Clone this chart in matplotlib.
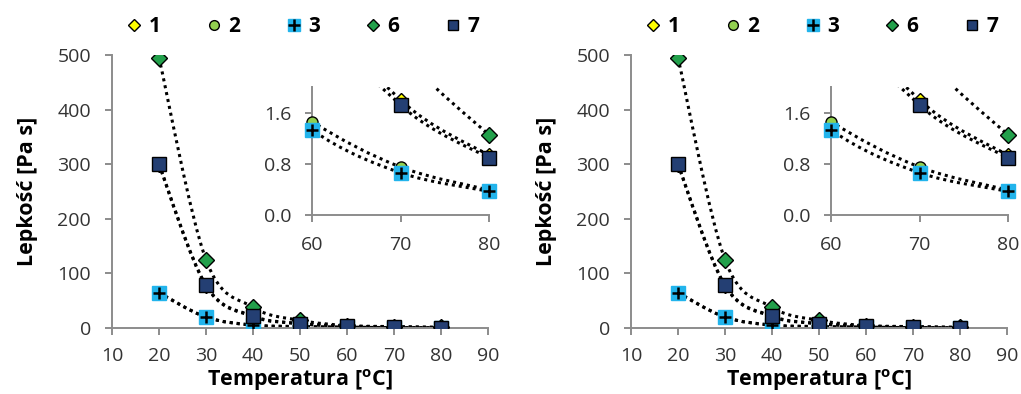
import matplotlib
matplotlib.use('Agg')
import matplotlib.pyplot as plt
from matplotlib.lines import Line2D
from matplotlib.legend_handler import HandlerTuple
from matplotlib.path import Path
from matplotlib.patches import PathPatch
import numpy as np

plt.rcParams['font.family'] = ['Open Sans', 'DejaVu Sans']

temps = [20, 30, 40, 50, 60, 70, 80]
labels = ['1', '2', '3', '6', '7']
visc_1 = [299, 77, 21, 8.0, 3.6, 1.80, 0.93]
visc_2 = [64, 20, 5.0, 2.5, 1.46, 0.75, 0.39]
visc_3 = [65, 20, 5.5, 2.6, 1.33, 0.66, 0.37]
visc_6 = [495, 125, 38, 14, 4.5, 2.55, 1.25]
visc_7 = [300, 78, 22, 8.0, 3.5, 1.72, 0.89]
series = [visc_1, visc_2, visc_3, visc_6, visc_7]

colors = ['#FFFF00', '#92D050', '#22B4EC', '#22A04B', '#243F73']
markers = ['D', 'o', 's', 'D', 's']
sizes = [7, 8, 10, 8, 9.5]
leg_sizes = [6, 7, 8.5, 6.5, 6.5]
spine_col = '#8C8C8C'
tick_col = '#333333'
dots = (0, (1, 1.3))


def smooth_line(ax, x, y):
    # Excel-style smoothed line: cubic Bezier through the points
    p = np.column_stack([x, y]).astype(float)
    n = len(p)
    verts = [p[0]]
    codes = [Path.MOVETO]
    for k in range(n - 1):
        prev = p[k - 1] if k > 0 else p[k]
        nxt = p[k + 2] if k + 2 < n else p[k + 1]
        c1 = p[k] + (p[k + 1] - prev) / 6
        c2 = p[k + 1] - (nxt - p[k]) / 6
        verts += [c1, c2, p[k + 1]]
        codes += [Path.CURVE4] * 3
    patch = PathPatch(Path(verts, codes), fill=False, edgecolor='black', lw=2.2,
                      linestyle=dots, zorder=2)
    ax.add_patch(patch)


def draw_points(ax, x, y, i, clip=True):
    if i == 2:
        # light blue square with black plus on top
        ax.plot(x, y, linestyle='none', marker='s', ms=sizes[i], mfc=colors[i],
                mec=colors[i], zorder=3 + i, clip_on=clip)
        ax.plot(x, y, linestyle='none', marker='+', ms=9, mew=1.8, color='black',
                zorder=3 + i, clip_on=clip)
    else:
        ax.plot(x, y, linestyle='none', marker=markers[i], ms=sizes[i], mfc=colors[i],
                mec='black', mew=1.0, zorder=3 + i, clip_on=clip)


def style_axes(ax, xpad, ypad):
    for s in ['top', 'right']:
        ax.spines[s].set_visible(False)
    for s in ['left', 'bottom']:
        ax.spines[s].set_color(spine_col)
        ax.spines[s].set_linewidth(1.4)
    ax.tick_params(colors=spine_col, labelcolor=tick_col, labelsize=14,
                   length=5, width=1.4, direction='out')
    ax.tick_params(axis='x', pad=xpad)
    ax.tick_params(axis='y', pad=ypad)


def draw_panel(fig, left):
    ax = fig.add_axes([left, 0.1675, 0.3683, 0.6929])
    for i, y in enumerate(series):
        smooth_line(ax, temps, y)
        draw_points(ax, temps, y, i)
    ax.set_xlim(10, 90)
    ax.set_ylim(0, 500)
    ax.set_xticks(range(10, 91, 10))
    ax.set_yticks(range(0, 501, 100))
    style_axes(ax, 9, 10)
    ax.set_xlabel('Temperatura [$\\mathregular{^o}$C]', fontsize=15.5, fontweight='bold', labelpad=1)
    ax.set_ylabel('Lepkość [Pa s]', fontsize=15.5, fontweight='bold', labelpad=14)

    # inset with the high-temperature range
    ins = fig.add_axes([left + 0.1959, 0.4543, 0.1734, 0.3249])
    for i, y in enumerate(series):
        smooth_line(ins, temps, y)
        xs = [t for t, v in zip(temps, y) if 60 <= t <= 80 and v <= 2.0]
        ys = [v for t, v in zip(temps, y) if 60 <= t <= 80 and v <= 2.0]
        draw_points(ins, xs, ys, i, clip=False)
    ins.set_xlim(60, 80)
    ins.set_ylim(0, 2.0)
    ins.set_xticks([60, 70, 80])
    ins.set_yticks([0, 0.8, 1.6])
    ins.set_yticklabels(['0.0', '0.8', '1.6'])
    ins.patch.set_alpha(0)
    style_axes(ins, 10, 10)

    handles = []
    for i in range(5):
        if i == 2:
            h = (Line2D([], [], linestyle='none', marker='s', ms=leg_sizes[i], mfc=colors[i], mec=colors[i]),
                 Line2D([], [], linestyle='none', marker='+', ms=leg_sizes[i], mew=1.8, color='black'))
        else:
            h = Line2D([], [], linestyle='none', marker=markers[i], ms=leg_sizes[i],
                       mfc=colors[i], mec='black', mew=1.0)
        handles.append(h)
    ax.legend(handles, labels, ncol=5, loc='center', bbox_to_anchor=(0.508, 1.105),
              frameon=False, handlelength=0.7, handletextpad=0.35, columnspacing=2.2,
              prop={'weight': 'bold', 'size': 15},
              handler_map={tuple: HandlerTuple(ndivide=1, pad=0)})


fig = plt.figure(figsize=(10.21, 3.94), dpi=100)
draw_panel(fig, 112 / 1021)
draw_panel(fig, 631 / 1021)
fig.savefig('out.png', dpi=100)
